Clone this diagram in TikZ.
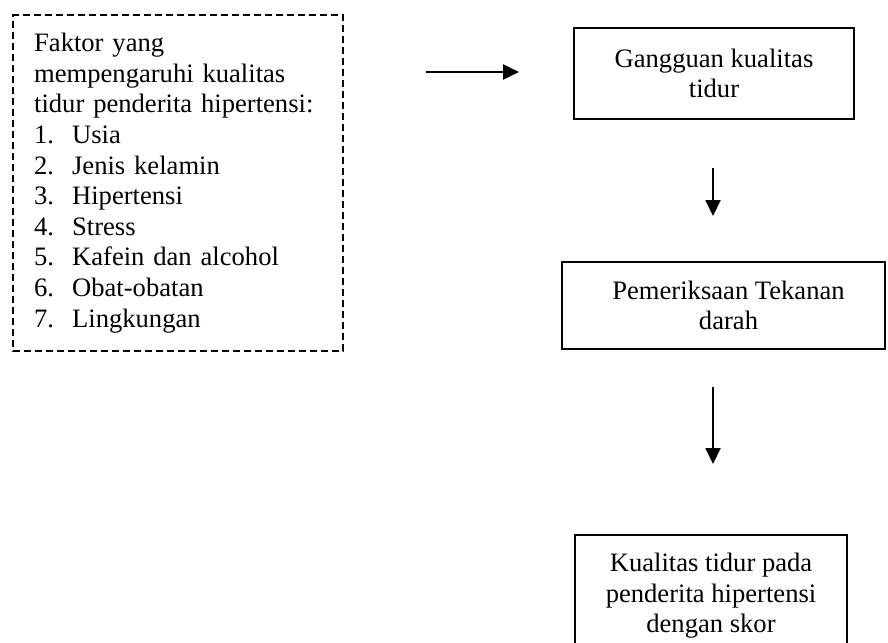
\documentclass[tikz,border=0pt]{standalone}
\usepackage{fontspec}
\setmainfont{Liberation Serif}
\usetikzlibrary{arrows.meta}
\begin{document}
\begin{tikzpicture}[x=1pt,y=-1pt,
  txt/.style={font=\fontsize{26.6pt}{30.6pt}\selectfont},
  boxnode/.style={draw, line width=2pt, txt, align=center, inner sep=0pt},
  dashbox/.style={draw, line width=2.3pt, dash pattern=on 7pt off 4pt, txt, align=left,
     text width=288pt, inner xsep=21pt, inner ysep=18pt, anchor=north west},
  arr/.style={line width=2pt, -{Triangle[length=16pt,width=15pt]}}]
\useasboundingbox (0,0) rectangle (888,642);
\clip (0,0) rectangle (888,642);
\node[dashbox] (faktor) at (12,14) {Faktor yang\\mempengaruhi kualitas\\tidur penderita hipertensi:\\
\makebox[38pt][l]{1.}Usia\\
\makebox[38pt][l]{2.}Jenis kelamin\\
\makebox[38pt][l]{3.}Hipertensi\\
\makebox[38pt][l]{4.}Stress\\
\makebox[38pt][l]{5.}Kafein dan alcohol\\
\makebox[38pt][l]{6.}Obat-obatan\\
\makebox[38pt][l]{7.}Lingkungan};
\node[boxnode, minimum width=280pt, minimum height=91pt] (gang) at (714,73.5) {Gangguan kualitas\\tidur};
\node[boxnode, minimum width=323pt, minimum height=87pt] (pem) at (723.5,305.5) {\hspace*{10pt}Pemeriksaan Tekanan\\\hspace*{10pt}darah};
\node[boxnode, anchor=north, minimum width=272pt, inner ysep=18pt] (kual) at (711,534) {Kualitas tidur pada\\penderita hipertensi\\dengan skor};
\coordinate (h1) at (426,72);
\coordinate (h2) at (519,72);
\coordinate (v1a) at (713,168);
\coordinate (v1b) at (713,216);
\coordinate (v2a) at (713,387);
\coordinate (v2b) at (713,464);
\draw[arr] (h1) -- (h2);
\draw[arr] (v1a) -- (v1b);
\draw[arr] (v2a) -- (v2b);
\end{tikzpicture}
\end{document}
